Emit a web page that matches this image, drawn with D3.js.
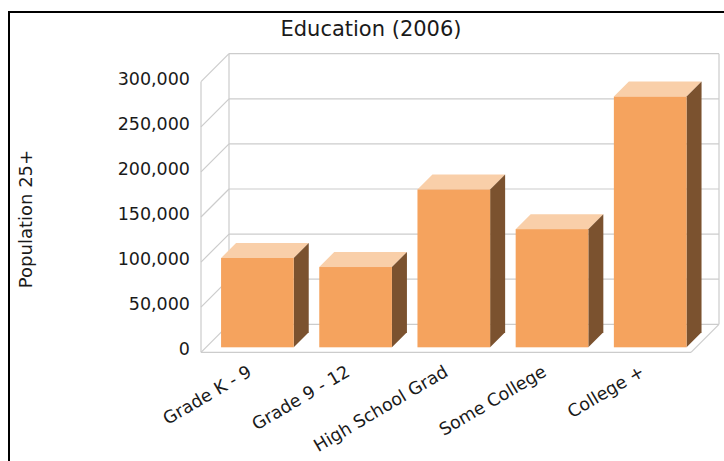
<!DOCTYPE html>
<html>
<head>
    <meta charset="utf-8" />
    <title>Education (2006)</title>
    <script src="https://cdn.jsdelivr.net/npm/d3@7"></script>
    <style>
        body { margin: 0; background: #fff; }
        text { font-family: "DejaVu Sans", sans-serif; fill: #1a1a1a; }
    </style>
</head>
<body>
<script>
    var categories = ["Grade K - 9", "Grade 9 - 12", "High School Grad", "Some College", "College +"]
    var population = [99000, 89000, 175000, 131000, 278000]
    var yTicks = [0, 50000, 100000, 150000, 200000, 250000, 300000]

    var W = 724, H = 461
    var DEPTH = 28       // depth of the walls
    var BAR_OFF = 5      // bars sit a little behind the front plane
    var BAR_DEPTH = 15
    var FRONT_L = 201, FRONT_R = 691

    var colors = {
        front: "#f5a35e",
        top: "#f9cfa9",
        side: "#7b522f",
        grid: "#cccccc"
    }

    var svg = d3.select("body").append("svg")
        .attr("width", W).attr("height", H)

    // bar plane scales
    var x = d3.scaleBand().domain(categories)
        .range([FRONT_L + 7.3, FRONT_R + 8.3])
        .paddingInner(0.26).paddingOuter(0.13)
    var y = d3.scaleLinear().domain([0, 300000]).range([347.3, 76.7])

    var yFront = v => y(v) + BAR_OFF
    var yBack = v => y(v) + BAR_OFF - DEPTH

    // outer frame
    svg.append("rect")
        .attr("x", 9).attr("y", 12)
        .attr("width", W + 20).attr("height", H + 20)
        .attr("fill", "none").attr("stroke", "#000").attr("stroke-width", 2)

    svg.append("text")
        .attr("x", 371).attr("y", 30)
        .attr("text-anchor", "middle").attr("dominant-baseline", "middle")
        .style("font-size", "21px")
        .text("Education (2006)")

    var grid = svg.append("g")
        .attr("stroke", colors.grid).attr("stroke-width", 1.2).attr("fill", "none")

    // back wall gridlines + left wall diagonals
    grid.selectAll(".hgrid").data(yTicks).enter().append("line")
        .attr("x1", FRONT_L + DEPTH).attr("x2", FRONT_R + DEPTH)
        .attr("y1", d => yBack(d)).attr("y2", d => yBack(d))
    grid.selectAll(".dgrid").data(yTicks).enter().append("line")
        .attr("x1", FRONT_L).attr("x2", FRONT_L + DEPTH)
        .attr("y1", d => yFront(d)).attr("y2", d => yBack(d))
    // wall edges
    grid.append("line")
        .attr("x1", FRONT_L + DEPTH).attr("x2", FRONT_L + DEPTH)
        .attr("y1", yBack(300000)).attr("y2", yBack(0))
    grid.append("line")
        .attr("x1", FRONT_R + DEPTH).attr("x2", FRONT_R + DEPTH)
        .attr("y1", yBack(300000)).attr("y2", yBack(0))
    grid.append("line")
        .attr("x1", FRONT_L).attr("x2", FRONT_L)
        .attr("y1", yFront(300000)).attr("y2", yFront(0))
    // floor
    grid.append("line")
        .attr("x1", FRONT_L).attr("x2", FRONT_R)
        .attr("y1", yFront(0)).attr("y2", yFront(0))
    grid.append("line")
        .attr("x1", FRONT_R).attr("x2", FRONT_R + DEPTH)
        .attr("y1", yFront(0)).attr("y2", yBack(0))

    // y tick labels
    svg.selectAll(".ytick").data(yTicks).enter().append("text")
        .attr("x", 190).attr("y", d => yFront(d) - 2)
        .attr("text-anchor", "end").attr("dominant-baseline", "middle")
        .style("font-size", "17.5px")
        .text(d => d3.format(",")(d))

    svg.append("text")
        .attr("transform", "translate(27,219) rotate(-90)")
        .attr("text-anchor", "middle").attr("dominant-baseline", "middle")
        .style("font-size", "18px")
        .text("Population 25+")

    // bars
    var bars = svg.selectAll(".bar").data(categories.map((c, i) => ({ c: c, v: population[i] })))
        .enter().append("g")
    var bw = x.bandwidth()
    bars.append("path") // top
        .attr("fill", colors.top)
        .attr("d", d => {
            var x0 = x(d.c), yt = y(d.v)
            return "M" + x0 + "," + yt + "L" + (x0 + BAR_DEPTH) + "," + (yt - BAR_DEPTH) +
                "L" + (x0 + bw + BAR_DEPTH) + "," + (yt - BAR_DEPTH) + "L" + (x0 + bw) + "," + yt + "Z"
        })
    bars.append("path") // side
        .attr("fill", colors.side)
        .attr("d", d => {
            var x1 = x(d.c) + bw, yt = y(d.v), yb = y(0)
            return "M" + x1 + "," + yt + "L" + (x1 + BAR_DEPTH) + "," + (yt - BAR_DEPTH) +
                "L" + (x1 + BAR_DEPTH) + "," + (yb - BAR_DEPTH) + "L" + x1 + "," + yb + "Z"
        })
    bars.append("rect") // front
        .attr("fill", colors.front)
        .attr("x", d => x(d.c)).attr("width", bw)
        .attr("y", d => y(d.v)).attr("height", d => y(0) - y(d.v))

    // category labels
    svg.selectAll(".xlabel").data(categories).enter().append("text")
        .attr("transform", d => "translate(" + (x(d) + bw / 2 - 11) + ",364) rotate(-30.5)")
        .attr("text-anchor", "end").attr("dominant-baseline", "hanging")
        .style("font-size", "17.5px")
        .text(d => d)
</script>
</body>
</html>
